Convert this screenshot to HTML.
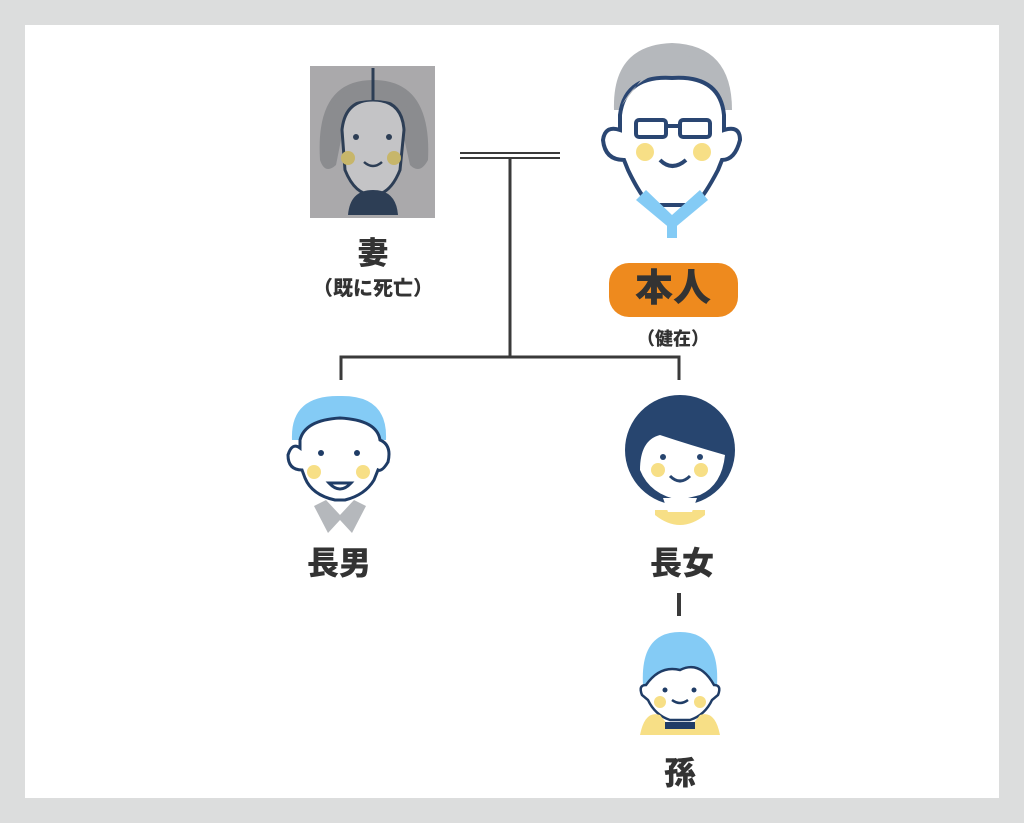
<!DOCTYPE html>
<html><head><meta charset="utf-8"><style>
html,body{margin:0;padding:0}
body{width:1024px;height:823px;background:#dcdddd;position:relative;overflow:hidden;font-family:"Liberation Sans","Noto Sans CJK JP",sans-serif}
.panel{position:absolute;left:25px;top:25px;width:974px;height:773px;background:#fff}
.t{position:absolute;color:#333;font-weight:900;text-align:center;white-space:nowrap;transform:translateX(-50%)}
</style></head><body>
<div class="panel"></div>
<svg width="1024" height="823" style="position:absolute;left:0;top:0">
<!-- connectors -->
<g stroke="#3a3a3a" stroke-width="3" fill="none">
<line x1="460" y1="153" x2="560" y2="153" stroke-width="2"/>
<line x1="460" y1="158" x2="560" y2="158" stroke-width="2"/>
<line x1="510" y1="158" x2="510" y2="357"/>
<polyline points="341,380 341,357 679,357 679,380"/>
<line x1="679" y1="593" x2="679" y2="616" stroke-width="4"/>
</g>
<!-- wife (grayscale) -->
<rect x="310" y="66" width="125" height="152" fill="#aaa9ab"/>
<path d="M320 160 Q315 80 373 80 Q432 80 428 160 Q420 175 410 165 L400 120 L345 120 L336 165 Q325 175 320 160Z" fill="#8b8c8f"/>
<path d="M342 130 Q345 100 373 100 Q402 100 404 130 L400 170 Q390 195 373 195 Q355 195 345 170Z" fill="#c4c4c6" stroke="#2d3e55" stroke-width="3"/>
<path d="M330 110 Q340 85 373 85 Q408 85 418 110 L400 105 Q373 95 346 105Z" fill="#8b8c8f"/>
<line x1="373" y1="68" x2="373" y2="100" stroke="#2d3e55" stroke-width="3"/>
<path d="M348 215 Q350 190 373 190 Q396 190 398 215Z" fill="#2d3e55"/>
<circle cx="348" cy="158" r="7" fill="#c7b66a"/><circle cx="394" cy="158" r="7" fill="#c7b66a"/>
<circle cx="356" cy="137" r="3" fill="#2d3e55"/><circle cx="389" cy="137" r="3" fill="#2d3e55"/>
<path d="M364 162 Q373 170 382 162" stroke="#2d3e55" stroke-width="2.5" fill="none"/>
<!-- man -->
<path d="M614 110 Q612 45 672 43 Q732 45 732 110Z" fill="#b5b8bc"/>
<path d="M620 115 Q625 75 672 78 Q720 75 724 115 L724 130 Q740 125 740 140 Q735 160 722 160 L718 170 Q705 195 695 205 L650 205 Q640 195 628 170 L624 160 Q605 160 603 140 Q605 125 620 130Z" fill="#fff" stroke="#2a4672" stroke-width="4"/>
<path d="M622 105 Q640 70 680 72 Q718 75 726 110 L725 80 Q700 50 660 55Z" fill="#b5b8bc"/>
<rect x="636" y="120" width="30" height="17" rx="3" fill="none" stroke="#2a4672" stroke-width="4"/>
<rect x="680" y="120" width="30" height="17" rx="3" fill="none" stroke="#2a4672" stroke-width="4"/>
<line x1="666" y1="126" x2="680" y2="126" stroke="#2a4672" stroke-width="4"/>
<circle cx="645" cy="152" r="9" fill="#f7df86"/><circle cx="702" cy="152" r="9" fill="#f7df86"/>
<path d="M660 160 Q672 172 686 160" stroke="#2a4672" stroke-width="4" fill="none"/>
<path d="M636 200 L672 230 L708 200 L700 190 L672 215 L646 190Z" fill="#84cbf5"/>
<rect x="667" y="220" width="10" height="18" fill="#84cbf5"/>
<rect x="609" y="263" width="129" height="54" rx="20" fill="#ee8a1e"/>
<!-- eldest son -->
<path d="M292 440 Q290 395 340 396 Q388 395 386 440Z" fill="#84cbf5"/>
<path d="M300 440 Q305 420 340 418 Q377 420 380 440 Q392 445 388 462 Q382 472 378 470 L374 480 Q365 495 345 500 L335 500 Q312 495 305 478 L302 470 Q288 470 288 455 Q292 442 300 448Z" fill="#fff" stroke="#1f3c66" stroke-width="3"/>
<circle cx="314" cy="472" r="7" fill="#f7df86"/><circle cx="363" cy="472" r="7" fill="#f7df86"/>
<circle cx="321" cy="453" r="3" fill="#1f3c66"/><circle cx="357" cy="453" r="3" fill="#1f3c66"/>
<path d="M329 483 Q340 495 351 483Z" fill="#fff" stroke="#1f3c66" stroke-width="3"/>
<path d="M314 506 L326 500 L340 515 L354 500 L366 506 L352 533 L340 520 L328 533Z" fill="#b5b8bc"/>
<!-- eldest daughter -->
<circle cx="680" cy="450" r="55" fill="#27456f"/>
<path d="M640 470 Q640 440 660 435 Q690 445 725 455 Q722 485 700 495 L680 500 Q650 495 640 470Z" fill="#fff"/>
<path d="M655 515 Q680 535 705 515 L705 510 L655 510Z" fill="#f7df86"/>
<path d="M663 498 L668 512 L692 512 L697 498Z" fill="#fff"/>
<circle cx="658" cy="470" r="7" fill="#f7df86"/><circle cx="701" cy="470" r="7" fill="#f7df86"/>
<circle cx="663" cy="457" r="3" fill="#27456f"/><circle cx="700" cy="457" r="3" fill="#27456f"/>
<path d="M670 476 Q680 486 690 476" stroke="#27456f" stroke-width="3" fill="none"/>
<!-- grandchild -->
<path d="M643 685 Q640 632 680 632 Q720 632 717 685Z" fill="#84cbf5"/>
<path d="M646 685 Q660 665 680 670 Q700 660 714 685 Q722 685 718 695 L712 700 Q705 715 690 720 L670 720 Q655 715 648 700 L642 695 Q638 685 646 685Z" fill="#fff" stroke="#1f3c66" stroke-width="2.5"/>
<path d="M640 735 Q645 710 660 715 L668 725 L692 725 L700 715 Q715 710 720 735Z" fill="#f7df86"/>
<rect x="665" y="722" width="30" height="7" fill="#1f3c66"/>
<circle cx="660" cy="702" r="6" fill="#f7df86"/><circle cx="700" cy="702" r="6" fill="#f7df86"/>
<circle cx="665" cy="690" r="2.5" fill="#1f3c66"/><circle cx="694" cy="690" r="2.5" fill="#1f3c66"/>
<path d="M672 700 Q680 706 688 700" stroke="#1f3c66" stroke-width="2.5" fill="none"/>
</svg>
<div class="t" style="left:373px;top:228px;font-size:31px">妻</div>
<div class="t" style="left:373px;top:272px;font-size:20px">（既に死亡）</div>
<div class="t" style="left:673px;top:265px;font-size:38px;line-height:48px">本人</div>
<div class="t" style="left:673px;top:325px;font-size:18px">（健在）</div>
<div class="t" style="left:339px;top:538px;font-size:32px">長男</div>
<div class="t" style="left:682px;top:538px;font-size:32px">長女</div>
<div class="t" style="left:680px;top:748px;font-size:32px">孫</div>
</body></html>
